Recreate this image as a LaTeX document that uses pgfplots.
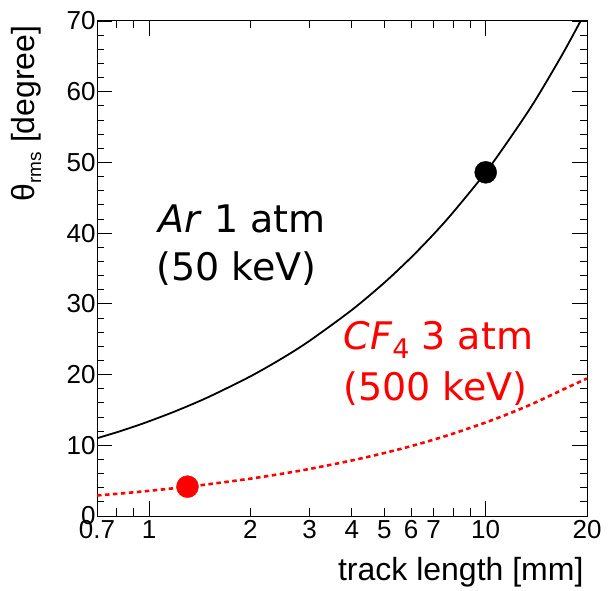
\documentclass[border=0pt]{standalone}
\usepackage{fontspec}
\setmainfont{Liberation Sans}
\newfontfamily\comic{DejaVu Sans}
\usepackage{pgfplots}
\pgfplotsset{compat=1.18}
\begin{document}
\begin{tikzpicture}
\useasboundingbox (0,0) rectangle (615bp,591bp);
\begin{axis}[
  at={(97bp,75bp)}, anchor=south west,
  scale only axis, width=490bp, height=495bp,
  xmode=log, xmin=0.7, xmax=20, ymin=0, ymax=70,
  axis line style={line width=1bp, black},
  every tick/.style={black, line width=0.9bp},
  xtick={1,10}, xticklabels={1,10},
  extra x ticks={0.7,2,3,4,5,6,7,20},
  extra x tick labels={0.7,2,3,4,5,6,7,20},
  extra x tick style={major tick length=7.5bp},
  minor xtick={0.8,0.9,8,9},
  ytick={0,10,20,30,40,50,60,70},
  minor ytick={2,4,6,8,12,14,16,18,22,24,26,28,32,34,36,38,42,44,46,48,52,54,56,58,62,64,66,68},
  major tick length=15bp, minor tick length=7.5bp,
  tick align=inside,
  /pgf/number format/assume math mode=true,
  ticklabel style={font=\fontsize{26bp}{26bp}\selectfont, black},
  xticklabel style={yshift=-1bp},
  yticklabel style={xshift=2bp},
  clip=true,
]
\addplot[black, line width=1.8bp, smooth] coordinates {
(0.7,11.0)(0.8,11.83)(0.9,12.63)(1,13.4)(1.2,14.84)(1.5,16.82)(2,19.75)(2.5,22.38)(3,24.79)(4,29.13)(5,33.0)(6,36.55)(7,39.84)(8,42.94)(10,48.6)(12,53.9)(14,58.7)(17,65.5)(20,71.7)
};
\addplot[red, line width=2.6bp, smooth, dash pattern=on 4.5bp off 3.5bp] coordinates {
(0.7,2.91)(0.8,3.13)(0.9,3.35)(1,3.56)(1.3,4.13)(1.5,4.49)(2,5.28)(2.5,6.0)(3,6.66)(4,7.85)(5,8.91)(6,9.88)(7,10.79)(8,11.65)(10,13.23)(12,14.67)(14,16.02)(17,17.9)(20,19.45)
};
\addplot[only marks, mark=*, mark size=11bp, black, mark options={solid, fill=black}] coordinates {(10,48.6)};
\addplot[only marks, mark=*, mark size=11bp, red, mark options={solid, fill=red}] coordinates {(1.3,4.15)};
\end{axis}
\node[anchor=base east, font=\fontsize{32bp}{32bp}\selectfont] at (587bp,11bp) {track length [mm]};
\node[rotate=90, anchor=base east, font=\fontsize{32bp}{32bp}\selectfont] at (34bp,569bp) {θ\raisebox{-7bp}{\fontsize{19bp}{19bp}\selectfont rms} [degree]};
\node[anchor=base west, font=\comic\fontsize{38bp}{38bp}\selectfont] at (155bp,358bp) {\textit{Ar} 1 atm};
\node[anchor=base west, font=\comic\fontsize{38bp}{38bp}\selectfont] at (153bp,310bp) {(50 keV)};
\node[anchor=base west, red, font=\comic\fontsize{38bp}{38bp}\selectfont] at (340bp,241bp) {\textit{CF}\raisebox{-9bp}{\fontsize{27bp}{27bp}\selectfont 4} 3 atm};
\node[anchor=base west, red, font=\comic\fontsize{38bp}{38bp}\selectfont] at (340bp,190bp) {(500 keV)};
\end{tikzpicture}
\end{document}
